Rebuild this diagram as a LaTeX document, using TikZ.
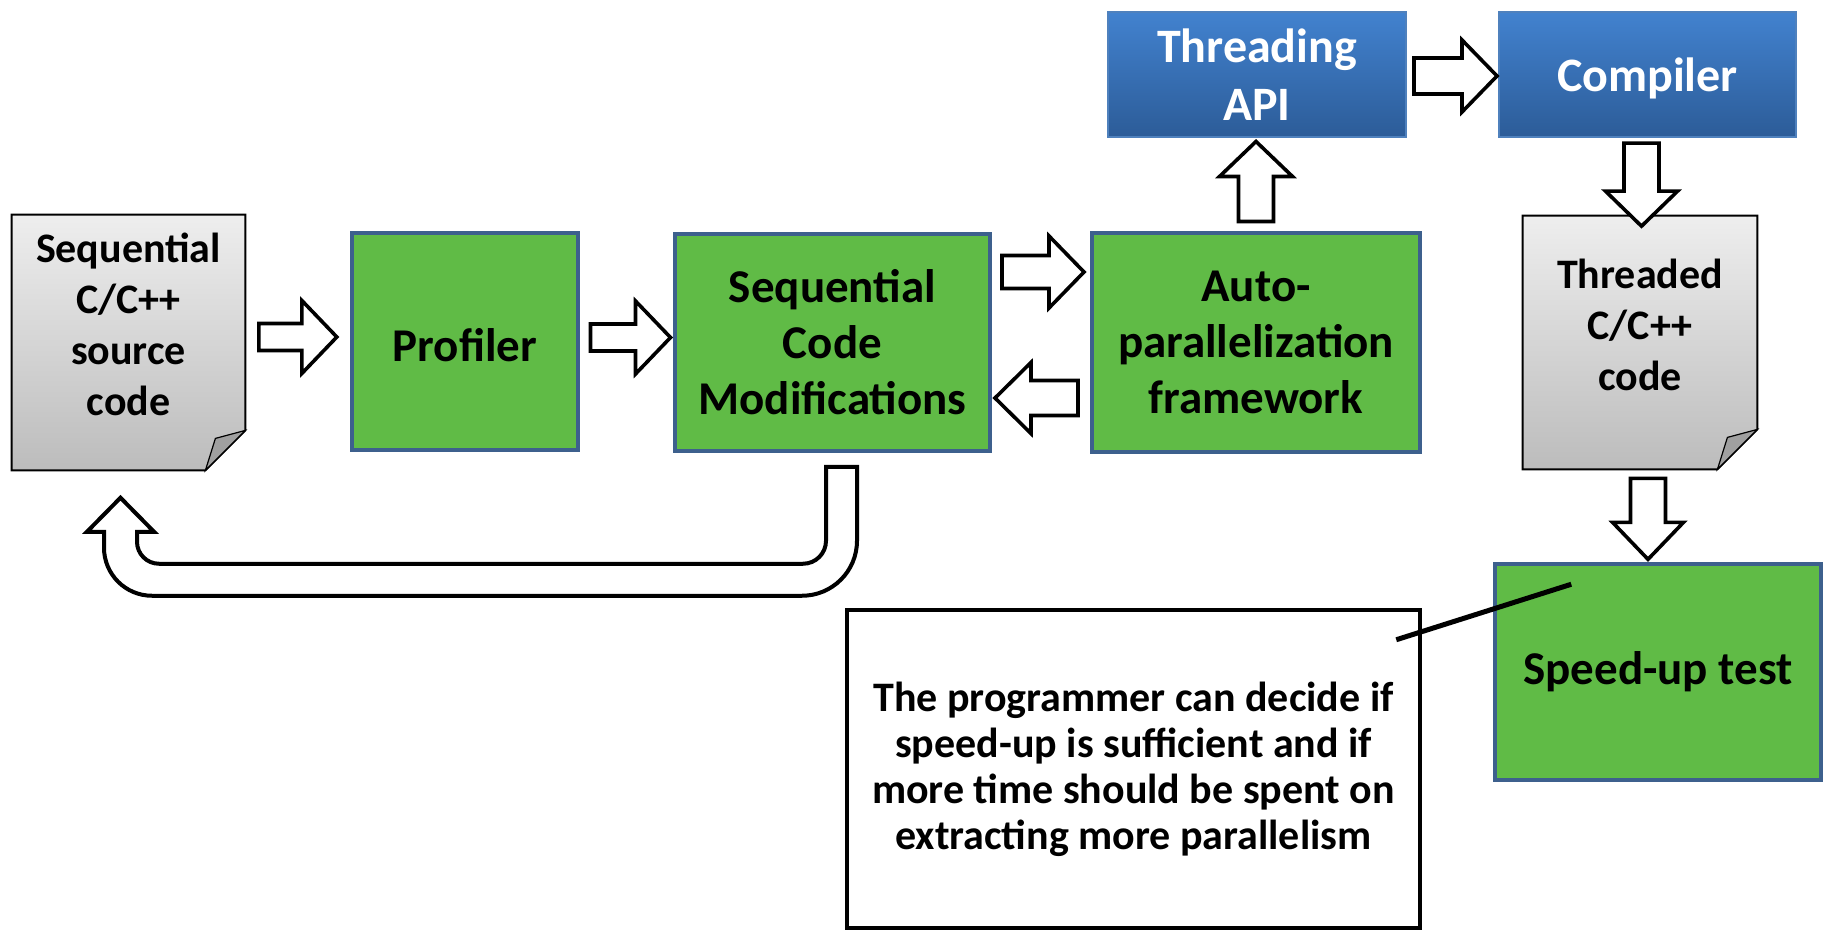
\documentclass[tikz,border=0pt]{standalone}
\usepackage{fontspec}
\setmainfont{Carlito}
\usetikzlibrary{calc}

\definecolor{boxgreen}{RGB}{96,187,70}
\definecolor{boxedge}{RGB}{61,96,141}
\definecolor{apitop}{RGB}{66,130,207}
\definecolor{apibot}{RGB}{44,92,152}
\definecolor{apiedge}{RGB}{79,129,189}
\definecolor{doctop}{RGB}{238,238,238}
\definecolor{docbot}{RGB}{188,188,188}
\definecolor{foldgray}{RGB}{160,160,160}

\tikzset{
  greenbox/.style={draw=boxedge, line width=1.75pt, fill=boxgreen, align=center, inner sep=0pt},
  bluebox/.style={draw=apiedge, line width=0.75pt, top color=apitop, bottom color=apibot,
                  text=white, align=center, inner sep=0pt},
  docarea/.style={inner sep=0pt},
  doctext/.style={align=center, inner sep=0pt},
  docline/.style={draw=black, line width=1pt, top color=doctop, bottom color=docbot},
  foldline/.style={draw=black, line width=0.6pt, fill=foldgray},
  notebox/.style={draw=black, line width=2.25pt, fill=white, align=center, inner sep=0pt},
  barrow/.style={draw=black, fill=white, line width=1.8pt, line join=miter},
  fdoc/.style={font=\bfseries\fontsize{21}{25.5}\selectfont},
  fbig/.style={font=\bfseries\fontsize{23.5}{28}\selectfont},
  fapi/.style={font=\bfseries\fontsize{24}{29}\selectfont},
  fnote/.style={font=\bfseries\fontsize{21}{23}\selectfont},
  % hollow block arrow pointing along +x: total length, shaft half width, head half width, head length
  pics/blockarrow/.style n args={4}{code={
    \draw[barrow] (-#1/2,-#2) -- ({#1/2-#4},-#2) -- ({#1/2-#4},-#3) -- (#1/2,0)
      -- ({#1/2-#4},#3) -- ({#1/2-#4},#2) -- (-#1/2,#2) -- cycle;
  }},
}

\begin{document}
\begin{tikzpicture}[x=0.5pt, y=-0.5pt]
\useasboundingbox (0,0) rectangle (1824,930);

% source document
\node[docarea, minimum width=116.5pt, minimum height=127.5pt] (src) at (128.5,342.5) {};
\draw[docline] (src.north west) -- (src.north east) -- ([yshift=20pt]src.south east)
  -- ([xshift=-20pt]src.south east) -- (src.south west) -- cycle;
\draw[foldline] ([yshift=20pt]src.south east) -- ([xshift=-15pt,yshift=16pt]src.south east)
  -- ([xshift=-20pt]src.south east) -- cycle;
\node[doctext, fdoc] (srcT) at ([yshift=9pt]src.center) {Sequential\\C/C++\\source\\code};

% processing stages
\node[greenbox, fbig, text height=20pt, minimum width=113pt, minimum height=108.5pt] (prof) at (465,341.5) {Profiler};
\node[greenbox, fbig, minimum width=157.5pt, minimum height=108.5pt] (scm) at (832.5,342.5)
  {Sequential\\Code\\Modifications};
\node[greenbox, fbig, minimum width=164pt, minimum height=109.5pt] (auto) at (1256,342.5)
  {Auto-\\parallelization\\framework};
\node[bluebox, fapi, minimum width=149pt, minimum height=62.5pt] (thr) at (1257,74.5) {Threading\\API};
\node[bluebox, fapi, text depth=0pt, minimum width=148.5pt, minimum height=62.5pt] (comp) at (1647.5,74.5) {Compiler};

% threaded document
\node[docarea, minimum width=117pt, minimum height=126.5pt] (tdoc) at (1640,342.5) {};
\draw[docline] (tdoc.north west) -- (tdoc.north east) -- ([yshift=20pt]tdoc.south east)
  -- ([xshift=-20pt]tdoc.south east) -- (tdoc.south west) -- cycle;
\draw[foldline] ([yshift=20pt]tdoc.south east) -- ([xshift=-15pt,yshift=16pt]tdoc.south east)
  -- ([xshift=-20pt]tdoc.south east) -- cycle;
\node[doctext, fdoc] (tdocT) at ([yshift=8.75pt]tdoc.center) {Threaded\\C/C++\\code};

\node[greenbox, fbig, minimum width=163pt, minimum height=108pt] (speed) at (1658,672) {Speed-up test};

% remark
\node[notebox, fnote, minimum width=286.5pt, minimum height=159pt] (note) at (1133.5,769)
  {The programmer can decide if\\speed-up is sufficient and if\\more time should be spent on\\extracting more parallelism};

% flow arrows
\pic at ($(src.east)!.5!(prof.west)+(0,-5)$) {blockarrow={78}{13.5}{36.5}{35}};
\pic at ($(prof.east)!.5!(scm.west)+(4,-4.5)$) {blockarrow={80}{13.5}{36.5}{35}};
\pic at ($(scm.east)!.5!(auto.west)+(2,-70.5)$) {blockarrow={82}{16.5}{36}{35}};
\pic[rotate=180] at ($(scm.east)!.5!(auto.west)+(-4.5,55.5)$) {blockarrow={83}{17.5}{35.5}{36}};
\pic[rotate=90] at ($(auto.north)!.5!(thr.south)+(-0.5,-3)$) {blockarrow={80}{17.5}{36.5}{35}};
\pic at ($(thr.east)!.5!(comp.west)+(3,1.5)$) {blockarrow={83}{18}{36}{35}};
\pic[rotate=-90] at ($(comp.south)!.5!(tdoc.north)+(-2.25,8)$) {blockarrow={83}{17.5}{36}{35}};
\pic[rotate=-90] at ($(tdoc.south)!.5!(speed.north)+(-1,3)$) {blockarrow={81}{17.5}{35.5}{37}};

% return arrow back to the source code
\coordinate (uS) at ($(scm.south)+(-6.5,14)$);
\draw[barrow, line width=2pt] (uS) -- ++(0,74)
  arc[start angle=0, end angle=-90, radius=11.5pt] -- ++(-644,0)
  arc[start angle=-90, end angle=-180, radius=11pt] -- ++(0,-10) -- ++(17,0)
  -- ++(-33.5,-34) coordinate (uTip) -- ++(-33.5,34) -- ++(17,0) -- ++(0,16)
  arc[start angle=180, end angle=270, radius=24pt] -- ++(650,0)
  arc[start angle=270, end angle=360, radius=27.5pt] -- ++(0,-74) -- cycle;

% callout line from the remark to the speed-up test
\coordinate (cA) at ($(note.north east)+(-26,32)$);
\coordinate (cB) at ($(speed.north west)+(78,22)$);
\draw[line width=2.5pt] (cA) -- (cB);
\end{tikzpicture}
\end{document}
